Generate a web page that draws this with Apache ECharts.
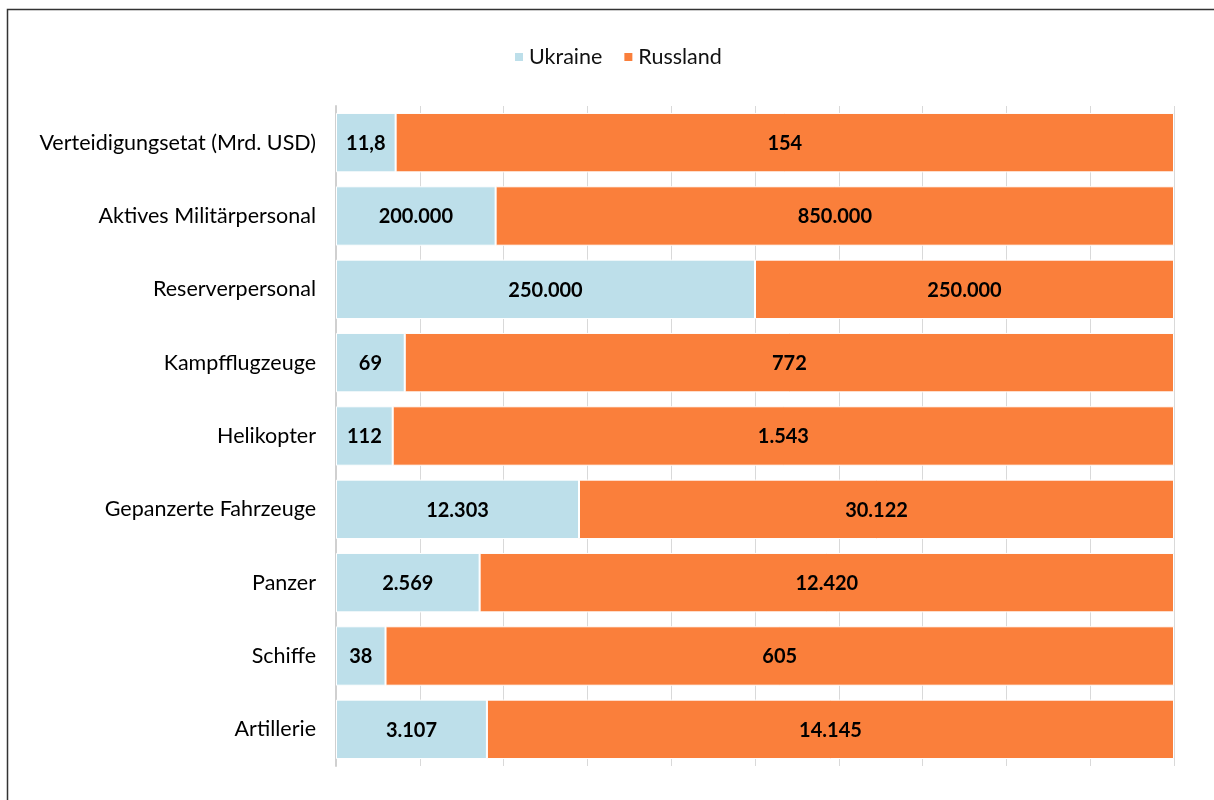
<!DOCTYPE html>
<html>
<head>
<meta charset="utf-8">
<script src="https://cdn.jsdelivr.net/npm/echarts@6/dist/echarts.min.js"></script>
<style>
  html, body { margin: 0; padding: 0; background: #fff; }
  #chart { width: 1214px; height: 800px; }
</style>
</head>
<body>
<div id="chart"></div>
<script>
const categories = [
  'Verteidigungsetat (Mrd. USD)',
  'Aktives Militärpersonal',
  'Reserverpersonal',
  'Kampfflugzeuge',
  'Helikopter',
  'Gepanzerte Fahrzeuge',
  'Panzer',
  'Schiffe',
  'Artillerie'
]
const ukraine = [11.8, 200000, 250000, 69, 112, 12303, 2569, 38, 3107]
const russland = [154, 850000, 250000, 772, 1543, 30122, 12420, 605, 14145]
const ukraineLabels = ['11,8', '200.000', '250.000', '69', '112', '12.303', '2.569', '38', '3.107']
const russlandLabels = ['154', '850.000', '250.000', '772', '1.543', '30.122', '12.420', '605', '14.145']

// 100% gestapelt: Anteil je Kategorie
const share = (a, b) => a.map((v, i) => v / (v + b[i]) * 100)
const ukraineShare = share(ukraine, russland)
const russlandShare = share(russland, ukraine)

const labelStyle = {
  show: true,
  position: 'inside',
  color: '#000',
  fontFamily: 'Lato',
  fontWeight: 'bold',
  fontSize: 20,
  offset: [0, 1]
}

const myChart = echarts.init(document.getElementById('chart'))
myChart.setOption({
  animation: false,
  textStyle: { fontFamily: 'Lato' },
  graphic: [{
    type: 'rect',
    shape: { x: 7.5, y: 9.5, width: 1400, height: 1000 },
    style: { fill: 'none', stroke: '#333', lineWidth: 1.5 },
    silent: true
  }],
  legend: {
    top: 41,
    left: 508,
    itemWidth: 10,
    itemHeight: 10,
    itemGap: 20,
    icon: 'rect',
    textStyle: { fontSize: 21.5, color: '#111', fontFamily: 'Lato' },
    data: ['Ukraine', 'Russland']
  },
  grid: { left: 336, right: 40, top: 106, bottom: 34 },
  xAxis: {
    type: 'value',
    min: 0,
    max: 100,
    interval: 10,
    axisLabel: { show: false },
    axisLine: { show: false },
    axisTick: { show: false },
    splitLine: { show: true, lineStyle: { color: '#d9d9d9', width: 1 } }
  },
  yAxis: {
    type: 'category',
    inverse: true,
    data: categories,
    axisLine: { show: true, lineStyle: { color: '#d0d0d0', width: 2 } },
    axisTick: { show: false },
    axisLabel: { color: '#000', fontSize: 21.5, fontFamily: 'Lato', margin: 20 }
  },
  series: [
    {
      name: 'Ukraine',
      type: 'bar',
      stack: 'total',
      barCategoryGap: '19%',
      data: ukraineShare,
      itemStyle: { color: '#bddfea', borderColor: '#fff', borderWidth: 1 },
      label: Object.assign({}, labelStyle, {
        formatter: p => ukraineLabels[p.dataIndex]
      })
    },
    {
      name: 'Russland',
      type: 'bar',
      stack: 'total',
      barCategoryGap: '19%',
      data: russlandShare,
      itemStyle: { color: '#fa7f3b', borderColor: '#fff', borderWidth: 1 },
      label: Object.assign({}, labelStyle, {
        formatter: p => russlandLabels[p.dataIndex]
      })
    }
  ]
})
</script>
</body>
</html>
